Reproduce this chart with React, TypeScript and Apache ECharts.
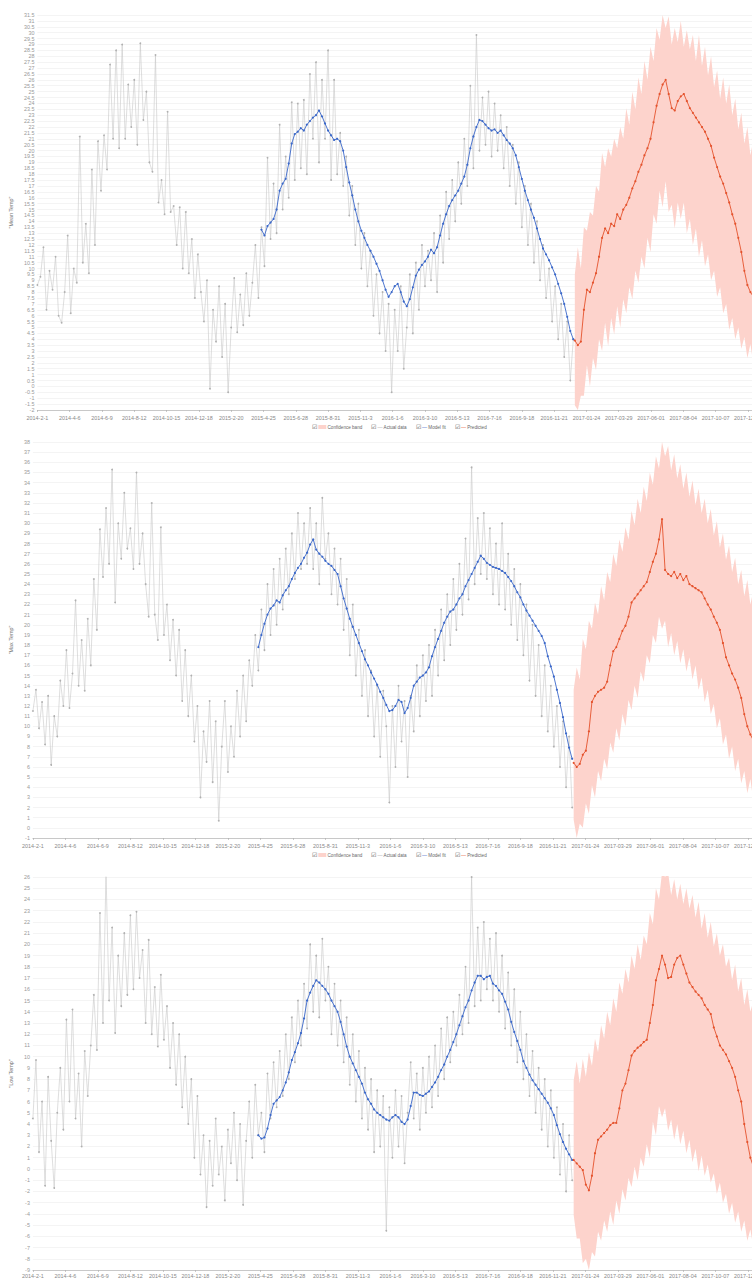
import React, { useEffect, useRef } from 'react';
import * as echarts from 'echarts';

// ---------- categories: one per day, 2014-2-1 .. 2017-12-31 ----------
const FIRST_DAY = Date.UTC(2014, 1, 1);
const DAY_COUNT = 1431;
function buildDates(): string[] {
  const out: string[] = [];
  const d = new Date(FIRST_DAY);
  for (let i = 0; i < DAY_COUNT; i++) {
    const y = d.getUTCFullYear();
    const m = d.getUTCMonth() + 1;
    const day = d.getUTCDate();
    out.push(
      y >= 2017
        ? `${y}-${String(m).padStart(2, '0')}-${String(day).padStart(2, '0')}`
        : `${y}-${m}-${day}`
    );
    d.setUTCDate(d.getUTCDate() + 1);
  }
  return out;
}
const dates = buildDates();

// sampling of the read values (category index of first value, days between values)
const ACTUAL_START = 0;
const FIT_START = 444;
const PRED_START = 1065;
const STEP = 6;

const legendNames = ['Confidence band', 'Actual data', 'Model fit', 'Predicted'];
const axisNames = ['"Mean Temp"', '"Max Temp"', '"Low Temp"'];

// ---------- Mean temp ----------
const meanActual = [
  8.6, 9.3, 11.8, 6.5, 9.8, 8.2, 11.0, 6.0, 5.4, 8.0,
  12.8, 6.2, 10.0, 8.8, 21.2, 10.5, 13.8, 9.6, 18.4, 12.0,
  20.8, 16.6, 21.3, 18.4, 27.3, 21.0, 28.5, 20.2, 29.0, 21.0,
  25.6, 22.0, 26.0, 20.5, 29.1, 22.6, 25.0, 19.0, 18.2, 28.1,
  15.6, 17.5, 14.6, 23.3, 14.8, 15.3, 12.0, 15.2, 10.0, 14.8,
  9.6, 12.5, 7.5, 11.2, 8.0, 5.5, 9.0, -0.2, 6.5, 3.8,
  8.5, 2.5, 7.0, -0.5, 5.0, 9.2, 4.6, 7.8, 5.2, 9.6,
  6.0, 8.8, 12.0, 7.5, 13.5, 10.2, 19.4, 12.5, 17.2, 13.0,
  22.2, 15.0, 19.5, 16.0, 24.1, 17.5, 24.0, 18.5, 24.3, 18.0,
  26.5, 21.0, 27.5, 19.0, 26.0, 21.0, 28.5, 17.5, 26.0, 18.0,
  21.5, 17.0, 19.5, 14.5, 17.0, 12.0, 15.5, 10.0, 13.0, 8.5,
  11.5, 6.0, 9.5, 4.5, 8.0, 3.0, 7.0, -0.5, 6.5, 3.0,
  8.5, 1.5, 5.0, 9.5, 4.5, 10.5, 6.5, 12.0, 8.5, 11.5,
  9.0, 13.0, 8.0, 14.5, 10.5, 16.5, 12.5, 17.5, 14.0, 19.0,
  15.5, 21.0, 17.0, 25.5, 18.5, 29.8, 20.0, 24.5, 20.5, 25.0,
  19.5, 24.0, 20.0, 23.0, 18.5, 22.0, 17.0, 20.5, 15.5, 19.0,
  13.5, 17.0, 12.0, 15.5, 10.5, 14.0, 9.0, 12.0, 7.5, 10.0,
  5.5, 8.5, 4.0, 7.0, 2.5, 5.5, 0.5, 4.0,
];
const meanFit = [
  13.3, 12.8, 13.6, 13.9, 14.2, 15.0, 16.6, 17.2, 17.6, 18.9,
  20.6, 21.4, 21.6, 21.9, 21.7, 22.2, 22.5, 22.8, 23.0, 23.4,
  22.9, 22.3, 21.7, 21.3, 20.9, 21.0, 20.8, 20.0, 18.6, 17.3,
  16.2, 15.0, 14.0, 13.2, 12.6, 12.0, 11.5, 11.0, 10.4, 9.8,
  9.0, 8.2, 7.6, 8.0, 8.5, 8.7, 8.0, 7.2, 6.8, 7.4,
  8.4, 9.4, 9.9, 10.3, 10.6, 11.0, 11.6, 11.3, 11.8, 12.8,
  13.8, 14.6, 15.3, 15.8, 16.2, 16.6, 17.2, 17.8, 18.8, 20.2,
  21.2, 22.0, 22.6, 22.5, 22.2, 21.9, 21.7, 21.8, 21.5, 21.7,
  21.3, 20.9, 20.6, 20.2, 19.6, 18.6, 17.6, 16.6, 15.8, 15.0,
  14.3, 13.4, 12.5, 11.7, 11.2, 10.7, 10.1, 9.5, 8.7, 7.9,
  7.0, 5.9, 4.7, 4.0,
];
const meanPred = [
  3.9, 3.5, 3.8, 6.5, 8.2, 8.0, 8.8, 9.6, 11.0, 12.6,
  13.4, 13.0, 13.8, 13.6, 14.6, 14.2, 15.0, 15.4, 16.0, 16.8,
  17.4, 18.2, 18.8, 19.6, 20.2, 21.0, 22.4, 23.8, 24.8, 25.6,
  26.0, 24.8, 23.6, 23.4, 24.2, 24.6, 24.8, 24.2, 23.6, 23.2,
  22.8, 22.4, 22.0, 21.6, 21.0, 20.4, 19.4, 18.6, 17.8, 17.2,
  16.4, 15.6, 14.6, 13.8, 12.6, 11.4, 9.8, 8.6, 8.0, 7.6, 7.2,
];
const meanUpper = [
  9.5, 11.8, 10.0, 13.5, 13.2, 14.8, 14.5, 17.0, 16.5, 19.8,
  18.6, 20.2, 19.5, 21.0, 20.2, 22.0, 21.0, 23.6, 22.2, 25.0,
  23.5, 26.2, 24.8, 27.6, 26.0, 28.8, 27.6, 30.4, 29.4, 31.5,
  30.4, 31.4, 29.0, 30.4, 29.2, 31.0, 28.8, 30.2, 28.6, 29.8,
  27.6, 29.8, 27.2, 28.8, 26.4, 28.0, 25.4, 26.8, 24.4, 26.2,
  24.0, 25.6, 23.0, 24.4, 21.8, 23.2, 20.6, 22.0, 19.6, 21.0, 18.6,
];
const meanLower = [
  -1.6, -2.0, -0.8, -0.8, 1.8, 0.0, 2.4, 1.4, 4.0, 3.0,
  5.4, 3.4, 5.8, 4.4, 6.8, 5.0, 7.4, 6.2, 8.4, 7.4,
  9.8, 8.8, 11.0, 10.0, 12.6, 11.4, 14.6, 13.8, 16.6, 15.2,
  17.4, 14.8, 15.4, 13.4, 15.6, 14.2, 15.6, 13.0, 14.2, 12.0,
  13.4, 11.0, 12.4, 10.2, 11.2, 9.0, 9.8, 7.6, 8.4, 6.2,
  7.0, 4.8, 5.8, 4.0, 5.0, 3.2, 4.2, 2.4, 3.6, 1.8, 2.8,
];

// ---------- Max temp ----------
const maxActual = [
  11.5, 13.6, 9.8, 12.4, 8.2, 13.0, 6.2, 11.0, 9.0, 14.5,
  12.0, 17.5, 11.8, 15.2, 22.4, 14.0, 18.5, 13.5, 20.6, 16.0,
  24.5, 19.5, 29.4, 24.7, 31.5, 26.0, 35.3, 22.2, 30.0, 26.5,
  33.0, 27.5, 29.5, 25.5, 35.0, 26.0, 29.0, 24.0, 20.8, 32.0,
  21.0, 18.5, 29.6, 19.0, 22.0, 16.5, 20.5, 15.0, 19.5, 12.5,
  17.5, 11.0, 15.0, 8.5, 12.0, 3.0, 9.5, 6.5, 12.5, 4.5,
  10.5, 0.7, 8.0, 12.5, 5.5, 10.0, 7.0, 13.5, 9.0, 15.0,
  10.5, 16.5, 14.0, 19.0, 15.5, 21.5, 17.5, 24.0, 19.0, 25.5,
  20.0, 26.5, 21.5, 27.5, 23.0, 29.0, 24.5, 31.0, 25.5, 30.0,
  26.0, 31.5, 25.5, 30.0, 24.0, 32.5, 26.5, 29.0, 23.0, 27.5,
  22.0, 26.5, 19.5, 24.5, 17.0, 22.0, 15.0, 19.5, 13.0, 17.5,
  11.0, 15.5, 9.0, 14.0, 7.0, 13.5, 10.0, 2.5, 12.0, 6.0,
  14.0, 8.5, 12.5, 5.0, 13.0, 9.5, 16.0, 11.0, 17.0, 12.5,
  18.0, 13.0, 19.5, 15.0, 21.5, 16.5, 23.0, 18.0, 24.5, 19.5,
  26.0, 21.0, 28.5, 22.5, 35.5, 24.0, 30.5, 25.0, 31.0, 24.5,
  29.5, 23.0, 28.0, 22.0, 30.0, 21.5, 27.0, 20.0, 25.5, 18.5,
  24.0, 17.0, 22.0, 14.5, 20.0, 13.0, 18.0, 11.0, 16.0, 9.5,
  14.0, 8.0, 12.0, 6.0, 10.5, 4.0, 9.0, 2.0,
];
const maxFit = [
  17.8, 19.0, 20.1, 21.0, 21.6, 21.9, 22.4, 22.2, 22.9, 23.4,
  23.8, 24.5, 25.1, 25.6, 26.0, 26.6, 27.1, 27.9, 28.4, 27.4,
  27.0, 26.7, 26.3, 26.0, 25.8, 25.4, 25.0, 23.8, 22.6, 21.6,
  20.6, 19.8, 19.0, 18.2, 17.4, 16.6, 16.0, 15.3, 14.7, 14.1,
  13.4, 12.8, 12.1, 11.5, 11.6, 12.0, 12.6, 12.4, 11.3, 11.8,
  12.8, 14.0, 14.4, 14.8, 15.0, 15.3, 15.8, 16.9, 17.8, 18.6,
  19.4, 20.2, 20.8, 21.3, 21.5, 22.0, 22.6, 23.0, 23.8, 24.4,
  25.0, 25.6, 26.2, 26.8, 26.5, 26.1, 25.9, 25.7, 25.6, 25.5,
  25.3, 25.1, 24.7, 24.3, 23.8, 23.2, 22.7, 22.0, 21.4, 20.9,
  20.4, 19.9, 19.4, 18.9, 18.2, 16.9, 15.9, 14.9, 13.6, 12.3,
  10.9, 9.3, 7.9, 6.8,
];
const maxPred = [
  6.4, 6.0, 6.3, 7.2, 7.6, 9.5, 12.4, 13.0, 13.4, 13.6,
  13.8, 14.4, 16.0, 17.4, 17.8, 18.6, 19.4, 19.9, 20.8, 22.2,
  22.6, 23.0, 23.4, 23.8, 24.2, 25.2, 26.2, 27.0, 28.4, 30.4,
  25.4, 25.0, 24.8, 25.2, 24.6, 25.0, 24.4, 24.8, 24.0, 23.8,
  23.6, 23.4, 23.2, 22.6, 22.0, 21.5, 20.8, 20.2, 19.5, 18.2,
  16.8, 16.0, 15.2, 14.6, 13.8, 12.8, 11.2, 10.0, 9.2, 8.6, 8.0,
];
const maxUpper = [
  13.6, 15.8, 14.6, 18.6, 17.6, 20.4, 19.6, 22.2, 21.0, 23.8,
  22.4, 25.2, 24.2, 27.0, 25.8, 28.4, 27.2, 29.6, 28.4, 31.2,
  29.8, 32.4, 31.0, 33.6, 32.2, 35.0, 33.8, 36.6, 35.4, 38.0,
  36.6, 37.6, 35.2, 36.8, 34.4, 35.8, 33.4, 35.0, 32.6, 34.2,
  31.8, 33.4, 31.0, 32.4, 30.0, 31.4, 28.8, 30.2, 27.6, 29.0,
  26.4, 27.8, 25.2, 26.6, 24.0, 25.4, 22.8, 24.4, 22.0, 23.4, 20.8,
];
const maxLower = [
  0.8, -1.0, 0.4, 0.0, 2.4, 1.4, 4.2, 3.0, 5.6, 4.6,
  6.8, 5.8, 8.4, 7.4, 9.8, 8.6, 11.2, 10.0, 12.6, 11.6,
  14.0, 12.8, 15.4, 14.4, 17.0, 16.2, 19.0, 18.2, 20.8, 19.6,
  20.4, 17.8, 19.2, 17.0, 18.4, 16.2, 17.6, 15.4, 16.8, 14.6,
  16.0, 13.6, 14.8, 12.4, 13.6, 11.2, 12.2, 9.8, 10.8, 8.2,
  9.2, 6.8, 8.0, 5.6, 6.8, 4.4, 5.6, 3.4, 4.8, 2.6, 4.0,
];

// ---------- Low temp ----------
const lowActual = [
  4.5, 9.7, 1.5, 6.0, -1.5, 8.2, 2.5, -1.7, 5.0, 9.0,
  3.5, 13.3, 6.0, 14.2, 4.5, 8.5, 2.0, 10.5, 6.5, 11.0,
  15.5, 10.6, 22.8, 13.0, 26.4, 15.0, 21.5, 12.1, 19.0, 14.5,
  21.0, 15.5, 22.6, 16.0, 22.9, 17.0, 19.5, 13.0, 20.4, 12.0,
  16.2, 10.9, 17.3, 11.5, 14.5, 9.0, 13.0, 7.5, 12.0, 5.5,
  10.0, 4.0, 8.0, 1.0, 6.5, -0.5, 3.0, -3.4, 2.5, -1.5,
  4.5, -0.5, 2.0, -2.8, 3.5, 0.5, 5.0, -1.0, 4.0, -3.2,
  2.5, 6.0, 1.0, 7.5, 3.0, 5.0, 1.5, 8.5, 4.5, 9.5,
  5.5, 10.5, 6.5, 12.0, 8.0, 13.5, 9.5, 15.0, 11.0, 16.5,
  12.5, 20.0, 14.0, 19.0, 13.5, 20.5, 15.0, 18.0, 12.0, 16.5,
  11.0, 15.0, 9.5, 13.5, 7.5, 12.0, 6.0, 10.5, 4.5, 9.0,
  3.5, 8.0, 1.5, 7.0, 2.0, 6.5, -5.5, 5.5, 1.0, 7.0,
  2.0, 6.5, 0.5, 5.0, 9.5, 4.5, 8.5, 3.5, 9.0, 5.0,
  10.0, 5.5, 11.0, 6.5, 12.5, 8.0, 13.5, 9.5, 14.0, 11.0,
  15.5, 12.0, 18.0, 13.0, 26.0, 14.5, 21.5, 15.0, 22.0, 16.0,
  20.5, 15.0, 21.0, 14.0, 19.0, 12.5, 17.5, 11.0, 16.0, 9.5,
  14.0, 8.0, 12.0, 6.5, 10.5, 5.0, 9.0, 3.5, 8.0, 2.0,
  7.0, 1.0, 5.5, -0.5, 4.0, -2.0, 3.0, -1.0,
];
const lowFit = [
  3.0, 2.7, 2.8, 3.6, 4.8, 5.8, 6.1, 6.4, 7.0, 7.7,
  8.6, 9.7, 10.4, 11.2, 12.1, 13.4, 15.0, 15.7, 16.3, 16.8,
  16.6, 16.3, 16.0, 15.6, 15.0, 14.5, 14.0, 13.1, 12.0, 10.9,
  10.0, 9.4, 8.8, 8.2, 7.6, 6.8, 6.2, 5.8, 5.3, 5.0,
  4.8, 4.6, 4.4, 4.3, 4.6, 4.8, 4.6, 4.2, 4.0, 4.4,
  5.6, 6.8, 6.8, 6.6, 6.5, 6.7, 6.9, 7.3, 7.7, 8.2,
  8.8, 9.3, 10.0, 10.6, 11.3, 12.0, 12.8, 13.6, 14.4, 15.0,
  15.9, 16.6, 17.2, 17.2, 16.9, 17.1, 17.2, 16.5, 16.3, 15.9,
  15.6, 14.9, 14.2, 13.1, 12.2, 11.4, 10.6, 9.6, 9.0, 8.4,
  7.9, 7.5, 7.1, 6.7, 6.3, 5.9, 5.4, 4.8, 3.9, 3.1,
  2.4, 1.8, 1.3, 0.8,
];
const lowPred = [
  0.8, 0.5, 0.2, -0.1, -1.4, -1.9, -0.6, 1.4, 2.6, 2.9,
  3.2, 3.5, 3.9, 4.1, 4.1, 5.4, 7.0, 7.6, 8.8, 10.1,
  10.5, 10.8, 11.0, 11.3, 11.5, 13.0, 14.6, 16.8, 17.8, 19.0,
  18.2, 17.0, 17.1, 18.2, 18.8, 19.0, 18.2, 17.4, 16.6, 16.2,
  15.8, 15.5, 15.2, 14.6, 14.2, 13.8, 12.6, 11.8, 11.0, 10.6,
  10.2, 9.6, 9.0, 8.2, 7.0, 6.0, 4.0, 2.4, 1.0, 0.2, -0.4,
];
const lowUpper = [
  7.9, 9.6, 7.6, 9.8, 8.2, 10.4, 9.2, 11.6, 10.4, 12.8,
  11.6, 14.0, 12.8, 15.2, 14.0, 16.6, 15.6, 17.8, 16.6, 19.0,
  17.8, 20.0, 18.6, 20.8, 20.0, 22.8, 21.8, 25.0, 24.0, 26.4,
  26.0, 26.4, 24.4, 25.8, 24.0, 25.4, 23.6, 25.0, 23.2, 24.4,
  22.4, 23.8, 21.4, 22.8, 20.6, 22.0, 19.8, 21.0, 19.0, 20.0,
  18.0, 18.8, 16.8, 18.2, 15.8, 17.0, 14.6, 16.0, 14.0, 15.0, 13.2,
];
const lowLower = [
  -4.1, -6.2, -6.2, -8.4, -8.0, -9.0, -7.4, -7.8, -5.6, -6.4,
  -4.6, -5.6, -3.8, -5.0, -2.8, -4.0, -1.8, -2.8, -0.8, -1.6,
  0.2, -1.0, 1.0, 0.2, 2.2, 1.0, 4.2, 3.0, 5.6, 4.6,
  5.4, 3.4, 4.4, 2.6, 4.0, 2.2, 3.4, 1.4, 2.6, 0.6,
  1.8, -0.2, 1.2, -0.6, 0.4, -1.2, -0.4, -2.2, -1.2, -3.0,
  -2.2, -4.0, -3.0, -4.8, -3.8, -5.6, -4.6, -6.4, -5.4, -7.0, -6.2,
];

// y-axis ranges per panel
const yMins = [-2, -1, -9];
const yMaxs = [31.5, 38, 26];
const yIntervals = [0.5, 1, 1];

const panels = [
  { actual: meanActual, fit: meanFit, pred: meanPred, upper: meanUpper, lower: meanLower },
  { actual: maxActual, fit: maxFit, pred: maxPred, upper: maxUpper, lower: maxLower },
  { actual: lowActual, fit: lowFit, pred: lowPred, upper: lowUpper, lower: lowLower },
];

// ---------- layout & style ----------
const GRIDS = [
  { top: 15, height: 395 },
  { top: 442, height: 396 },
  { top: 877, height: 393 },
];
const LEGEND_TOPS = [424, 852, 1282];
const LABEL_MARGINS = [5, 5, 3];
const GRID_LEFT = 22;
const GRID_WIDTH = 737;
const FS = 5.4;
const GRAY = '#c8c8c8';
const BLUE = '#3b68c9';
const RED = '#e4522c';
const BAND = '#fdd3cc';
const FONT = 'Liberation Sans, Arial, sans-serif';

const toPairs = (vals: number[], start: number) => vals.map((v, i) => [start + i * STEP, v]);

function buildOption() {
  const series: any[] = [];
  panels.forEach((p, i) => {
    const common = { type: 'line', xAxisIndex: i, yAxisIndex: i, animation: false };
    series.push({
      ...common,
      name: 'Confidence band',
      stack: 'band' + i,
      stackStrategy: 'all',
      data: toPairs(p.lower, PRED_START),
      symbol: 'none',
      lineStyle: { opacity: 0 },
      itemStyle: { color: BAND },
      silent: true,
      z: 1,
    });
    series.push({
      ...common,
      name: 'Confidence band',
      stack: 'band' + i,
      stackStrategy: 'all',
      data: toPairs(
        p.upper.map((u, j) => Math.round((u - p.lower[j]) * 100) / 100),
        PRED_START
      ),
      symbol: 'none',
      lineStyle: { opacity: 0 },
      areaStyle: { color: BAND, opacity: 1 },
      itemStyle: { color: BAND },
      silent: true,
      z: 1,
    });
    series.push({
      ...common,
      name: 'Actual data',
      data: toPairs(p.actual, ACTUAL_START),
      symbol: 'circle',
      symbolSize: 1.8,
      showAllSymbol: true,
      lineStyle: { color: GRAY, width: 0.6 },
      itemStyle: { color: '#b0b0b0' },
      z: 2,
    });
    series.push({
      ...common,
      name: 'Model fit',
      data: toPairs(p.fit, FIT_START),
      symbol: 'circle',
      symbolSize: 2.2,
      showAllSymbol: true,
      lineStyle: { color: BLUE, width: 0.9 },
      itemStyle: { color: BLUE },
      z: 3,
    });
    series.push({
      ...common,
      name: 'Predicted',
      data: toPairs(p.pred, PRED_START),
      symbol: 'circle',
      symbolSize: 2.2,
      showAllSymbol: true,
      lineStyle: { color: RED, width: 0.9 },
      itemStyle: { color: RED },
      z: 3,
    });
  });

  const legendFormatter = (name: string) => {
    const icon =
      name === 'Confidence band'
        ? '{band| }'
        : name === 'Actual data'
        ? '{ga|—}'
        : name === 'Model fit'
        ? '{bl|—}'
        : '{rd|—}';
    return `{cb|☑} ${icon} ${name}`;
  };

  return {
    animation: false,
    backgroundColor: '#fff',
    textStyle: { fontFamily: FONT },
    grid: GRIDS.map((g) => ({ left: GRID_LEFT, width: GRID_WIDTH, top: g.top, height: g.height })),
    legend: LEGEND_TOPS.map((t) => ({
      top: t,
      left: 306,
      itemWidth: 0,
      itemHeight: 0,
      itemGap: 3,
      padding: 0,
      data: legendNames,
      formatter: legendFormatter,
      textStyle: {
        fontSize: 4.6,
        color: '#666',
        fontFamily: FONT,
        rich: {
          cb: { fontSize: 5.5, color: '#555' },
          band: { backgroundColor: BAND, width: 8, height: 4 },
          ga: { color: '#aaa', fontSize: 5 },
          bl: { color: BLUE, fontSize: 5 },
          rd: { color: RED, fontSize: 5 },
        },
      },
    })),
    xAxis: GRIDS.map((_, i) => ({
      type: 'category',
      gridIndex: i,
      data: dates,
      boundaryGap: false,
      axisLine: { onZero: false, lineStyle: { color: '#aaa', width: 0.6 } },
      axisTick: { interval: 63, length: 2, lineStyle: { color: '#aaa', width: 0.6 } },
      axisLabel: {
        interval: 63,
        fontSize: FS,
        color: '#888',
        margin: LABEL_MARGINS[i],
        fontFamily: FONT,
      },
      splitLine: { show: false },
    })),
    yAxis: GRIDS.map((_, i) => ({
      type: 'value',
      gridIndex: i,
      min: yMins[i],
      max: yMaxs[i],
      interval: yIntervals[i],
      name: axisNames[i],
      nameLocation: 'middle',
      nameRotate: 90,
      nameGap: 14,
      nameTextStyle: { fontSize: FS, color: '#777', fontFamily: FONT },
      axisLine: { show: false },
      axisTick: { show: false },
      axisLabel: { fontSize: FS, color: '#999', margin: 3, fontFamily: FONT },
      splitLine: { lineStyle: { color: '#ececec', width: 0.6 } },
    })),
    series,
  };
}

export default function App() {
  const ref = useRef<HTMLDivElement>(null);
  useEffect(() => {
    if (!ref.current) return;
    const chart = echarts.init(ref.current, undefined, { renderer: 'svg' });
    chart.setOption(buildOption() as any);
    return () => chart.dispose();
  }, []);
  return (
    <div
      style={{
        position: 'absolute',
        left: 0,
        top: 0,
        width: 752,
        height: 1282,
        overflow: 'hidden',
        background: '#fff',
      }}
    >
      <div ref={ref} style={{ width: 790, height: 1300 }} />
    </div>
  );
}
